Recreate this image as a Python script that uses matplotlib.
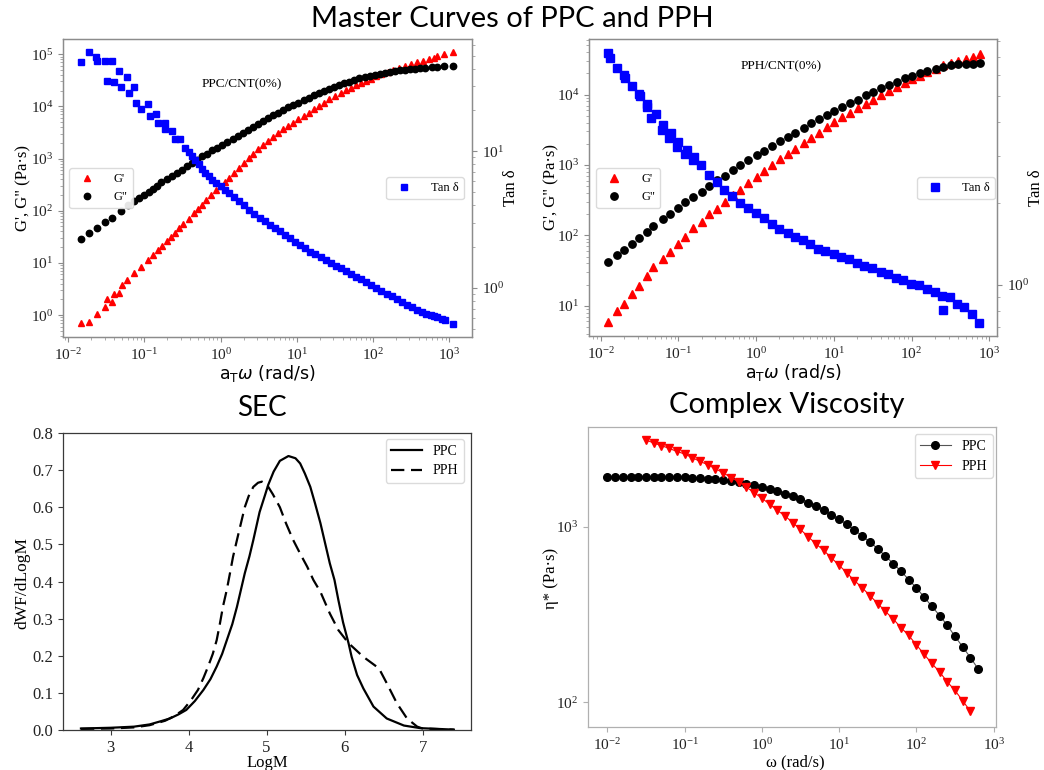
import numpy as np
import matplotlib
matplotlib.use("Agg")
import matplotlib.pyplot as plt
from matplotlib.ticker import NullLocator, FixedLocator, FormatStrFormatter

plt.rcParams['font.family'] = 'serif'
plt.rcParams['font.serif'] = ['Liberation Serif', 'DejaVu Serif']
plt.rcParams['mathtext.fontset'] = 'dejavusans'

# ---- master curve, PPC (values read as log10) ----
logf_ppc_gp = [-1.831, -1.733, -1.622, -1.524, -1.498, -1.422, -1.400, -1.333, -1.289, -1.231,
               -1.133, -1.044, -0.956, -0.889, -0.822, -0.764, -0.711, -0.653, -0.600, -0.547,
               -0.489, -0.422, -0.356, -0.298, -0.244, -0.191, -0.133, -0.067, 0.0, 0.058,
               0.111, 0.178, 0.244, 0.311, 0.378, 0.431, 0.489, 0.556, 0.622, 0.689,
               0.756, 0.822, 0.889, 0.956, 1.022, 1.089, 1.156, 1.222, 1.289, 1.356,
               1.422, 1.498, 1.578, 1.644, 1.711, 1.778, 1.844, 1.911, 1.978, 2.044,
               2.111, 2.191, 2.267, 2.342, 2.422, 2.502, 2.578, 2.653, 2.733, 2.800,
               2.844, 2.933, 3.044]
loggp_ppc = [-0.160, -0.128, 0.019, 0.160, 0.301, 0.256, 0.404, 0.417, 0.577, 0.673,
             0.801, 0.929, 1.058, 1.154, 1.250, 1.327, 1.410, 1.494, 1.571, 1.660,
             1.744, 1.846, 1.955, 2.032, 2.115, 2.212, 2.308, 2.391, 2.468, 2.545,
             2.628, 2.724, 2.821, 2.917, 3.013, 3.096, 3.173, 3.250, 3.333, 3.417,
             3.494, 3.558, 3.622, 3.686, 3.750, 3.814, 3.878, 3.942, 4.006, 4.071,
             4.135, 4.199, 4.263, 4.314, 4.359, 4.410, 4.455, 4.494, 4.532, 4.577,
             4.615, 4.660, 4.699, 4.737, 4.776, 4.808, 4.840, 4.872, 4.904, 4.929,
             4.955, 5.000, 5.032]
logf_ppc_gpp = [-1.831, -1.733, -1.622, -1.524, -1.422, -1.311, -1.222, -1.133, -1.067, -1.000,
                -0.947, -0.889, -0.831, -0.778, -0.711, -0.644, -0.578, -0.511, -0.444, -0.378,
                -0.311, -0.244, -0.178, -0.111, -0.044, 0.022, 0.089, 0.156, 0.222, 0.289,
                0.356, 0.422, 0.489, 0.556, 0.622, 0.689, 0.756, 0.822, 0.889, 0.956,
                1.022, 1.089, 1.156, 1.222, 1.289, 1.356, 1.422, 1.489, 1.556, 1.622,
                1.689, 1.756, 1.822, 1.889, 1.956, 2.022, 2.089, 2.156, 2.222, 2.289,
                2.356, 2.422, 2.489, 2.556, 2.622, 2.689, 2.769, 2.844, 2.933, 3.044]
loggpp_ppc = [1.462, 1.571, 1.667, 1.776, 1.859, 1.987, 2.103, 2.179, 2.244, 2.308,
              2.365, 2.417, 2.481, 2.545, 2.603, 2.660, 2.724, 2.788, 2.853, 2.917,
              2.981, 3.045, 3.096, 3.154, 3.205, 3.263, 3.321, 3.378, 3.436, 3.494,
              3.551, 3.609, 3.660, 3.718, 3.769, 3.827, 3.878, 3.929, 3.981, 4.026,
              4.071, 4.122, 4.167, 4.212, 4.256, 4.295, 4.333, 4.372, 4.410, 4.442,
              4.474, 4.506, 4.538, 4.564, 4.590, 4.609, 4.628, 4.647, 4.667, 4.679,
              4.692, 4.705, 4.718, 4.724, 4.731, 4.737, 4.750, 4.756, 4.776, 4.776]
logf_ppc_tan = [-1.831, -1.733, -1.631, -1.622, -1.524, -1.498, -1.431, -1.400, -1.333, -1.302,
                -1.231, -1.200, -1.133, -1.111, -1.044, -0.956, -0.933, -0.844, -0.822, -0.733,
                -0.733, -0.636, -0.600, -0.533, -0.467, -0.422, -0.378, -0.333, -0.289, -0.244,
                -0.200, -0.156, -0.111, -0.058, 0.0, 0.058, 0.111, 0.178, 0.244, 0.311,
                0.378, 0.444, 0.511, 0.578, 0.644, 0.711, 0.778, 0.844, 0.911, 0.978,
                1.044, 1.111, 1.178, 1.244, 1.311, 1.378, 1.444, 1.511, 1.578, 1.644,
                1.711, 1.778, 1.844, 1.911, 1.978, 2.044, 2.111, 2.178, 2.244, 2.311,
                2.378, 2.444, 2.511, 2.578, 2.644, 2.698, 2.756, 2.800, 2.844, 2.902,
                2.947, 3.044]
logtan_ppc = [1.650, 1.723, 1.686, 1.662, 1.662, 1.515, 1.662, 1.502, 1.588, 1.466,
              1.539, 1.424, 1.466, 1.355, 1.306, 1.343, 1.257, 1.270, 1.208, 1.208,
              1.159, 1.147, 1.086, 1.086, 1.025, 0.993, 0.963, 0.934, 0.902, 0.870,
              0.841, 0.816, 0.792, 0.767, 0.743, 0.718, 0.694, 0.664, 0.632, 0.603,
              0.571, 0.542, 0.510, 0.485, 0.461, 0.436, 0.412, 0.387, 0.363, 0.338,
              0.314, 0.289, 0.265, 0.248, 0.228, 0.206, 0.184, 0.162, 0.142, 0.120,
              0.100, 0.081, 0.061, 0.039, 0.020, -0.002, -0.022, -0.042, -0.061, -0.083,
              -0.103, -0.123, -0.140, -0.159, -0.176, -0.189, -0.201, -0.208, -0.213, -0.228,
              -0.238, -0.262]

# ---- master curve, PPH ----
freq_pph = [0.0125, 0.0163, 0.0198, 0.0256, 0.0313, 0.0396, 0.0474, 0.0625, 0.0778, 0.0996,
            0.123, 0.156, 0.199, 0.250, 0.311, 0.399, 0.501, 0.623, 0.798, 1.02,
            1.27, 1.60, 2.05, 2.54, 3.19, 4.09, 5.14, 6.38, 8.18, 10.2,
            12.8, 16.1, 20.4, 25.6, 32.1, 40.7, 51.2, 64.3, 81.5, 102,
            129, 160, 205, 257, 320, 398, 500, 610, 766]
gp_pph = [5.9, 8.5, 10.7, 14.8, 19.1, 26.3, 35.5, 46.8, 58.9, 75.9,
          95.5, 126, 155, 200, 240, 302, 372, 447, 562, 676,
          813, 1000, 1202, 1413, 1698, 2042, 2455, 2884, 3467, 4074,
          4786, 5495, 6457, 7413, 8511, 9772, 11220, 12882, 14791, 16596,
          18621, 20893, 23442, 26303, 28184, 30200, 32359, 33884, 38019]
gpp_pph = [41.7, 52.5, 61.7, 75.9, 91.2, 112, 138, 170, 204, 245,
           302, 355, 417, 501, 603, 708, 851, 1000, 1175, 1380,
           1585, 1862, 2188, 2512, 2884, 3388, 3890, 4467, 5129, 5888,
           6607, 7586, 8511, 9772, 10965, 12303, 13490, 15136, 16982, 18621,
           20417, 21878, 23442, 24547, 26303, 26915, 27542, 27542, 28184]
freq_pph_tan = [0.01245, 0.0131, 0.01625, 0.0198, 0.0204, 0.0256, 0.0313, 0.0319, 0.0396, 0.0396,
                0.0451, 0.0513, 0.0607, 0.0638, 0.0762, 0.0793, 0.0948, 0.0996, 0.121, 0.128,
                0.156, 0.160, 0.195, 0.250, 0.311, 0.387, 0.491, 0.623, 0.798, 1.00,
                1.27, 1.60, 2.00, 2.54, 3.19, 4.01, 4.99, 6.21, 7.80, 9.98,
                12.4, 15.6, 19.6, 24.8, 31.2, 40.0, 49.7, 62.4, 78.3, 97.5,
                125, 157, 199, 250, 257, 314, 390, 475, 592, 743]
tan_pph = [7.21, 6.90, 6.37, 5.98, 5.82, 5.45, 5.07, 4.98, 4.66, 4.57,
           4.13, 4.29, 3.74, 3.91, 3.48, 3.64, 3.24, 3.39, 3.06, 3.15,
           2.90, 2.96, 2.77, 2.55, 2.40, 2.24, 2.13, 2.01, 1.93, 1.84,
           1.76, 1.68, 1.61, 1.55, 1.50, 1.46, 1.41, 1.36, 1.33, 1.30,
           1.27, 1.24, 1.20, 1.17, 1.15, 1.11, 1.10, 1.06, 1.04, 1.01,
           0.995, 0.966, 0.940, 0.912, 0.803, 0.900, 0.849, 0.826, 0.780, 0.721]

# ---- SEC ----
logm_ppc = [2.62, 3.0, 3.3, 3.5, 3.65, 3.76, 3.87, 3.97, 4.08, 4.19,
            4.28, 4.36, 4.43, 4.49, 4.56, 4.62, 4.67, 4.72, 4.78, 4.83,
            4.91, 4.98, 5.02, 5.09, 5.17, 5.28, 5.37, 5.43, 5.49, 5.56,
            5.62, 5.69, 5.75, 5.81, 5.87, 5.92, 5.98, 6.05, 6.09, 6.16,
            6.24, 6.37, 6.54, 6.76, 6.97, 7.4]
wf_ppc = [0.004, 0.006, 0.009, 0.015, 0.024, 0.031, 0.042, 0.054, 0.078, 0.108,
          0.137, 0.171, 0.205, 0.242, 0.285, 0.332, 0.377, 0.422, 0.468, 0.512,
          0.587, 0.633, 0.66, 0.696, 0.725, 0.738, 0.732, 0.718, 0.691, 0.655,
          0.611, 0.557, 0.503, 0.449, 0.404, 0.35, 0.29, 0.234, 0.197, 0.148,
          0.112, 0.063, 0.031, 0.012, 0.005, 0.001]
logm_pph = [2.62, 3.0, 3.3, 3.5, 3.7, 3.82, 3.93, 4.03, 4.12, 4.19,
            4.25, 4.31, 4.36, 4.40, 4.44, 4.49, 4.53, 4.57, 4.62, 4.67,
            4.72, 4.77, 4.83, 4.89, 4.94, 5.0, 5.08, 5.17, 5.25, 5.34,
            5.43, 5.52, 5.60, 5.69, 5.81, 5.92, 6.05, 6.24, 6.35, 6.44,
            6.54, 6.67, 6.80, 6.93, 7.0, 7.4]
wf_pph = [0.003, 0.004, 0.007, 0.013, 0.025, 0.038, 0.054, 0.08, 0.108, 0.14,
          0.171, 0.205, 0.242, 0.285, 0.332, 0.378, 0.422, 0.467, 0.512, 0.556,
          0.60, 0.63, 0.655, 0.666, 0.669, 0.662, 0.635, 0.60, 0.556, 0.512,
          0.475, 0.44, 0.404, 0.372, 0.314, 0.269, 0.234, 0.197, 0.18, 0.166,
          0.126, 0.072, 0.031, 0.009, 0.004, 0.001]

# ---- complex viscosity ----
omega_ppc = [0.01, 0.0126, 0.0158, 0.0200, 0.0251, 0.0316, 0.0398, 0.0501, 0.0631, 0.0794,
             0.1, 0.126, 0.158, 0.200, 0.251, 0.316, 0.398, 0.501, 0.631, 0.794,
             1, 1.26, 1.58, 2.00, 2.51, 3.16, 3.98, 5.01, 6.31, 7.94,
             10, 12.6, 15.8, 20.0, 25.1, 31.6, 39.8, 50.1, 63.1, 79.4,
             100, 126, 158, 200, 251, 316, 398, 501, 631]
eta_ppc = [1932, 1932, 1932, 1932, 1932, 1932, 1932, 1932, 1932, 1923,
           1923, 1914, 1901, 1884, 1866, 1849, 1820, 1795, 1762, 1726,
           1687, 1644, 1600, 1552, 1503, 1442, 1377, 1318, 1247, 1172,
           1107, 1035, 962, 887, 820, 752, 682, 619, 560, 502,
           449, 399, 353, 313, 275, 238, 207, 180, 155]
omega_pph = [0.0316, 0.0398, 0.0501, 0.0631, 0.0794,
             0.1, 0.126, 0.158, 0.200, 0.251, 0.316, 0.398, 0.501, 0.631, 0.794,
             1, 1.26, 1.58, 2.00, 2.51, 3.16, 3.98, 5.01, 6.31, 7.94,
             10, 12.6, 15.8, 20.0, 25.1, 31.6, 39.8, 50.1, 63.1, 79.4,
             100, 126, 158, 200, 251, 316, 398, 501]
eta_pph = [3133, 3013, 2911, 2805, 2698,
           2606, 2483, 2366, 2265, 2148, 2037, 1914, 1811, 1687, 1570,
           1459, 1349, 1245, 1156, 1057, 968, 879, 802, 736, 667,
           605, 547, 495, 449, 406, 366, 330, 299, 267, 241,
           213, 188, 167, 149, 131, 117, 102, 89]

W, H = 1044, 770
fig = plt.figure(figsize=(W / 100, H / 100), dpi=100)


def box(l, t, r, b):
    return [l / W, 1 - b / H, (r - l) / W, (b - t) / H]


def fpos(x, y):
    return (x / W, 1 - y / H)


def style_axes(ax, color, minor=True, size=11):
    for s in ax.spines.values():
        s.set_color(color)
        s.set_linewidth(0.9)
    ax.tick_params(which='major', direction='out', length=3.5, width=0.8,
                   color=color, labelsize=size, labelcolor='#222222')
    ax.tick_params(which='minor', direction='out', length=2, width=0.5, color=color)
    if not minor:
        ax.xaxis.set_minor_locator(NullLocator())
        ax.yaxis.set_minor_locator(NullLocator())


leg_kw = dict(fontsize=9, frameon=True, fancybox=True, edgecolor='#d8d8d8',
              framealpha=0.9, numpoints=1, handletextpad=1.2,
              borderaxespad=0, bbox_transform=fig.transFigure)
xlabel_top = r'$\mathrm{a_T}\omega$ (rad/s)'
title_font = dict(ha='center', va='center', fontsize=21, family='Lato')

# ---------- top left: PPC master curve ----------
ax1 = fig.add_axes(box(63, 39, 472, 337))
ax1.plot(10 ** np.array(logf_ppc_gp), 10 ** np.array(loggp_ppc), ls='none',
         marker='^', ms=4.8, color='red', label="G'")
ax1.plot(10 ** np.array(logf_ppc_gpp), 10 ** np.array(loggpp_ppc), ls='none',
         marker='o', ms=4.6, color='black', label='G"')
ax1.set_xscale('log')
ax1.set_yscale('log')
ax1.set_xlim(10 ** -2.07, 10 ** 3.3)
ax1.set_ylim(10 ** -0.42, 10 ** 5.29)
ax1.set_ylabel('G\', G" (Pa·s)', fontsize=12)
ax1.yaxis.set_label_coords(-0.078, 0.5)
ax1.set_xlabel(xlabel_top, fontsize=12.5, family='DejaVu Sans')
ax1.xaxis.set_label_coords(0.5, -0.086)
style_axes(ax1, '#8c8c8c')
ax1.legend(loc='upper left', bbox_to_anchor=fpos(69, 168), **leg_kw)

ax1b = ax1.twinx()
ax1b.plot(10 ** np.array(logf_ppc_tan), 10 ** np.array(logtan_ppc), ls='none',
          marker='s', ms=4.8, color='blue', label='Tan δ')
ax1b.set_yscale('log')
ax1b.set_ylim(10 ** -0.36, 10 ** 1.82)
ax1b.set_ylabel('Tan δ', fontsize=12)
ax1b.yaxis.set_label_coords(1.076, 0.5)
style_axes(ax1b, '#8c8c8c')
ax1b.legend(loc='upper left', bbox_to_anchor=fpos(386, 177), **leg_kw)
fig.text(*fpos(242, 84), 'PPC/CNT(0%)', ha='center', va='center', fontsize=9.5)

# ---------- top right: PPH master curve ----------
ax2 = fig.add_axes(box(589, 39, 997, 336))
ax2.plot(freq_pph, gp_pph, ls='none', marker='^', ms=5.5, color='red', label="G'")
ax2.plot(freq_pph, gpp_pph, ls='none', marker='o', ms=5.3, color='black', label='G"')
ax2.set_xscale('log')
ax2.set_yscale('log')
ax2.set_xlim(10 ** -2.15, 10 ** 3.1)
ax2.set_ylim(10 ** 0.57, 10 ** 4.79)
ax2.set_ylabel('G\', G" (Pa·s)', fontsize=12)
ax2.yaxis.set_label_coords(-0.073, 0.5)
ax2.set_xlabel(xlabel_top, fontsize=12.5, family='DejaVu Sans')
ax2.xaxis.set_label_coords(0.5, -0.086)
style_axes(ax2, '#8c8c8c')
ax2.legend(loc='upper left', bbox_to_anchor=fpos(596, 168), **leg_kw)

ax2b = ax2.twinx()
ax2b.plot(freq_pph_tan, tan_pph, ls='none', marker='s', ms=5.5, color='blue', label='Tan δ')
ax2b.set_yscale('log')
ax2b.set_ylim(10 ** -0.19, 10 ** 0.91)
ax2b.set_ylabel('Tan δ', fontsize=12)
ax2b.yaxis.set_label_coords(1.076, 0.5)
style_axes(ax2b, '#8c8c8c')
ax2b.legend(loc='upper left', bbox_to_anchor=fpos(917, 177), **leg_kw)
fig.text(*fpos(781, 66), 'PPH/CNT(0%)', ha='center', va='center', fontsize=9.5)

# ---------- bottom left: SEC ----------
ax3 = fig.add_axes(box(63, 433, 471, 730))
ax3.plot(logm_ppc, wf_ppc, color='black', lw=1.6, label='PPC')
ax3.plot(logm_pph, wf_pph, color='black', lw=1.6, dashes=(6, 3), label='PPH')
ax3.set_xlim(2.39, 7.62)
ax3.set_ylim(0, 0.8)
ax3.xaxis.set_major_locator(FixedLocator([3, 4, 5, 6, 7]))
ax3.yaxis.set_major_locator(FixedLocator([0, 0.1, 0.2, 0.3, 0.4, 0.5, 0.6, 0.7, 0.8]))
ax3.yaxis.set_major_formatter(FormatStrFormatter('%.1f'))
ax3.set_xlabel('LogM', fontsize=12)
ax3.xaxis.set_label_coords(0.5, -0.085)
ax3.set_ylabel('dWF/dLogM', fontsize=12.5)
ax3.yaxis.set_label_coords(-0.08, 0.495)
style_axes(ax3, '#3a3a3a', minor=False, size=12)
ax3.legend(loc='upper right', bbox_to_anchor=fpos(464, 439),
           **dict(leg_kw, fontsize=10, handlelength=2.2, handletextpad=0.8))
fig.text(*fpos(262, 408), 'SEC', **dict(title_font, fontsize=20))

# ---------- bottom right: complex viscosity ----------
ax4 = fig.add_axes(box(588, 427, 996, 727))
ax4.plot(omega_ppc, eta_ppc, color='#555555', lw=0.8, marker='o', ms=5.5,
         mfc='black', mec='black', label='PPC')
ax4.plot(omega_pph, eta_pph, color='red', lw=0.8, marker='v', ms=5.5,
         mfc='red', mec='red', label='PPH')
ax4.set_xscale('log')
ax4.set_yscale('log')
ax4.set_xlim(10 ** -2.25, 10 ** 3.03)
ax4.set_ylim(10 ** 1.86, 10 ** 3.57)
ax4.set_xlabel('ω (rad/s)', fontsize=12)
ax4.xaxis.set_label_coords(0.507, -0.09)
ax4.set_ylabel('η* (Pa·s)', fontsize=12)
ax4.yaxis.set_label_coords(-0.071, 0.495)
style_axes(ax4, '#b0b0b0', minor=False)
ax4.legend(loc='upper right', bbox_to_anchor=fpos(993, 434),
           **dict(leg_kw, fontsize=10, handlelength=2.2, handletextpad=0.8))
fig.text(*fpos(787, 405), 'Complex Viscosity', **title_font)

fig.text(*fpos(512, 19), 'Master Curves of PPC and PPH', **title_font)

fig.savefig('out.png', dpi=100)
